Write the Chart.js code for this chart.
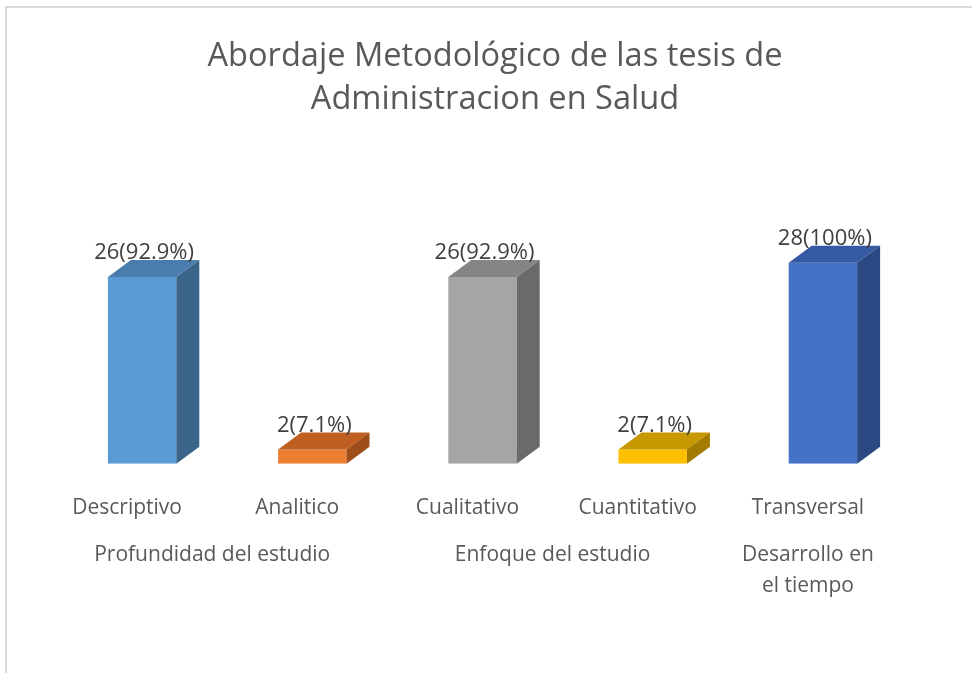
<!DOCTYPE html>
<html>
<head>
<meta charset="utf-8">
<script src="https://cdn.jsdelivr.net/npm/chart.js@4/dist/chart.umd.min.js"></script>
<style>
  html, body { margin: 0; padding: 0; background: #fff; }
  #wrap { width: 972px; height: 673px; position: relative; }
</style>
</head>
<body>
<div id="wrap"><canvas id="chart"></canvas></div>
<script>
const titleLines = ['Abordaje Metodológico de las tesis de', 'Administracion en Salud'];
const categories = ['Descriptivo', 'Analitico', 'Cualitativo', 'Cuantitativo', 'Transversal'];
const counts = [26, 2, 26, 2, 28];
const percents = ['92.9%', '7.1%', '92.9%', '7.1%', '100%'];
const groups = ['Profundidad del estudio', 'Enfoque del estudio', ['Desarrollo en', 'el tiempo']];
const groupStart = [0, 2, 4];
const groupEnd = [1, 3, 4];

const frontColors = ['#5B9BD5', '#ED7D31', '#A5A5A5', '#FFC000', '#4472C4'];
const topColors = ['#4A7DAD', '#BF5F22', '#858585', '#C79800', '#3559A2'];
const sideColors = ['#3A6489', '#9E4D18', '#6A6A6A', '#A27B00', '#2B4883'];

const FONT = "'Open Sans', sans-serif";
const DX = 23, DY = -17;

// light frame and the title (title sits a bit right of the plot centre, as in Excel)
const framePlugin = {
  id: 'frame',
  beforeDraw(chart) {
    const ctx = chart.ctx;
    ctx.save();
    ctx.strokeStyle = '#d9d9d9';
    ctx.lineWidth = 2;
    ctx.beginPath();
    ctx.moveTo(6, 673);
    ctx.lineTo(6, 7);
    ctx.lineTo(972, 7);
    ctx.stroke();
    ctx.fillStyle = '#595959';
    ctx.font = '32.6px ' + FONT;
    ctx.textAlign = 'center';
    ctx.textBaseline = 'middle';
    titleLines.forEach((t, k) => ctx.fillText(t, 495, 57 + k * 43));
    ctx.restore();
  }
};

// top and side faces for the 3D look, plus the value labels
const boxPlugin = {
  id: 'box3d',
  afterDatasetsDraw(chart) {
    const ctx = chart.ctx;
    const meta = chart.getDatasetMeta(0);
    ctx.save();
    meta.data.forEach((bar, i) => {
      const l = bar.x - bar.width / 2, r = bar.x + bar.width / 2;
      const t = bar.y, b = bar.base;
      ctx.fillStyle = topColors[i];
      ctx.beginPath();
      ctx.moveTo(l, t);
      ctx.lineTo(l + DX, t + DY);
      ctx.lineTo(r + DX, t + DY);
      ctx.lineTo(r, t);
      ctx.closePath();
      ctx.fill();
      ctx.fillStyle = sideColors[i];
      ctx.beginPath();
      ctx.moveTo(r, t);
      ctx.lineTo(r + DX, t + DY);
      ctx.lineTo(r + DX, b + DY);
      ctx.lineTo(r, b);
      ctx.closePath();
      ctx.fill();
    });
    ctx.fillStyle = '#404040';
    ctx.font = '22px ' + FONT;
    ctx.textAlign = 'center';
    ctx.textBaseline = 'middle';
    meta.data.forEach((bar, i) => {
      ctx.fillText(counts[i] + '(' + percents[i] + ')', bar.x + 2, bar.y - 24);
    });
    ctx.restore();
  }
};

// second row of category labels (groups)
const groupPlugin = {
  id: 'groups',
  afterDraw(chart) {
    const ctx = chart.ctx;
    const x = chart.scales.x;
    ctx.save();
    ctx.fillStyle = '#595959';
    ctx.font = '21px ' + FONT;
    ctx.textAlign = 'center';
    ctx.textBaseline = 'middle';
    groups.forEach((g, i) => {
      const cx = (x.getPixelForValue(groupStart[i]) + x.getPixelForValue(groupEnd[i])) / 2 - 15;
      const lines = Array.isArray(g) ? g : [g];
      lines.forEach((ln, k) => ctx.fillText(ln, cx, 555 + k * 31));
    });
    ctx.restore();
  }
};

new Chart(document.getElementById('chart'), {
  type: 'bar',
  data: {
    labels: categories,
    datasets: [{
      data: counts,
      backgroundColor: frontColors,
      borderWidth: 0,
      barPercentage: 1,
      categoryPercentage: 0.402
    }]
  },
  options: {
    responsive: true,
    maintainAspectRatio: false,
    animation: false,
    layout: { padding: { left: 57, right: 64, top: 248.4, bottom: 120 } },
    plugins: {
      legend: { display: false },
      tooltip: { enabled: false },
      title: { display: false }
    },
    scales: {
      x: {
        grid: { display: false, drawTicks: false },
        border: { display: false },
        ticks: {
          color: '#595959',
          font: { family: FONT, size: 21 },
          padding: 32,
          labelOffset: -15,
          maxRotation: 0
        }
      },
      y: {
        display: false,
        min: 0,
        max: 30
      }
    }
  },
  plugins: [framePlugin, boxPlugin, groupPlugin]
});
</script>
</body>
</html>
